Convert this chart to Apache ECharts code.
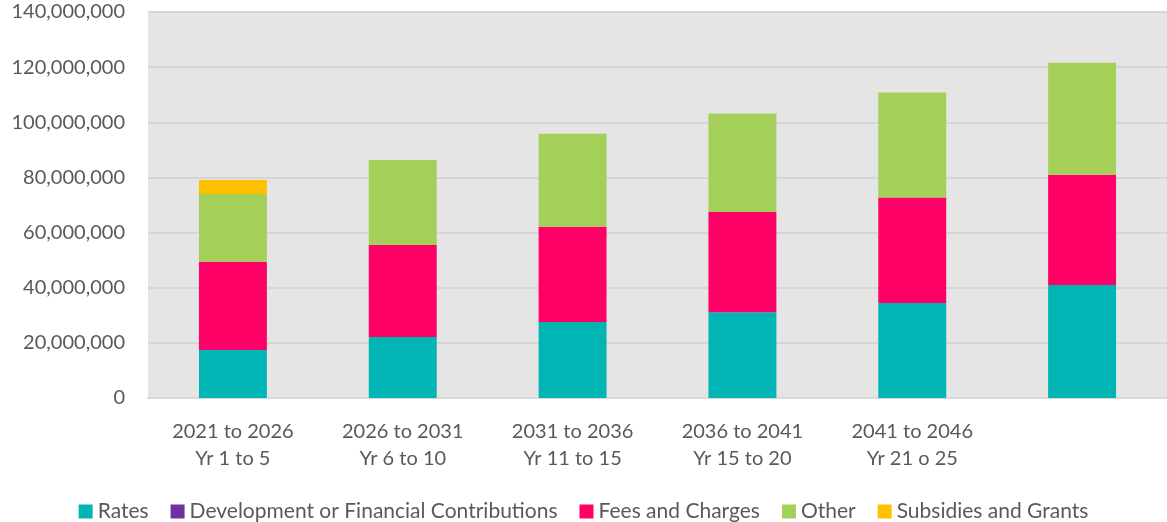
<!DOCTYPE html>
<html>
<head>
<meta charset="utf-8">
<script src="https://cdn.jsdelivr.net/npm/echarts@6/dist/echarts.min.js"></script>
<style>
  html, body { margin: 0; padding: 0; background: #fff; }
  #main { width: 1167px; height: 522px; }
</style>
</head>
<body>
<div id="main"></div>
<script>
// categories (last one has no label in the original)
var categories = ['2021 to 2026\nYr 1 to 5', '2026 to 2031\nYr 6 to 10', '2031 to 2036\nYr 11 to 15',
  '2036 to 2041\nYr 15 to 20', '2041 to 2046\nYr 21 o 25', ''];

// values in dollars
var rates = [17400000, 22100000, 27600000, 31100000, 34500000, 41000000];
var devContributions = [0, 0, 0, 0, 0, 0];
var feesCharges = [32000000, 33400000, 34500000, 36400000, 38200000, 40000000];
var other = [24600000, 30800000, 33700000, 35700000, 38100000, 40600000];
var subsidies = [5100000, 0, 0, 0, 0, 0];

var yTicks = [0, 20000000, 40000000, 60000000, 80000000, 100000000, 120000000, 140000000];

var font = 'Lato, "Open Sans", sans-serif';

var chart = echarts.init(document.getElementById('main'));

function bar(name, data, color) {
  return {
    name: name,
    type: 'bar',
    stack: 'total',
    data: data,
    barWidth: '40%',
    itemStyle: { color: color },
    emphasis: { disabled: true }
  };
}

var option = {
  animation: false,
  textStyle: { fontFamily: font },
  grid: {
    left: 148, right: 0, top: 12, bottom: 124,
    show: true, backgroundColor: '#E5E5E5', borderWidth: 0
  },
  legend: {
    top: 496,
    left: 'center',
    itemWidth: 14,
    itemHeight: 14,
    itemGap: 22,
    icon: 'rect',
    textStyle: { color: '#595959', fontSize: 21, fontFamily: font },
    data: ['Rates', 'Development or Financial Contributions', 'Fees and Charges', 'Other', 'Subsidies and Grants']
  },
  xAxis: {
    type: 'category',
    data: categories,
    axisLine: { lineStyle: { color: '#D9D9D9', width: 2 } },
    axisTick: { show: false },
    axisLabel: { color: '#595959', fontSize: 20, lineHeight: 27, margin: 20, fontFamily: font }
  },
  yAxis: {
    type: 'value',
    min: yTicks[0],
    max: yTicks[yTicks.length - 1],
    interval: yTicks[1] - yTicks[0],
    axisLine: { show: false },
    axisTick: { show: false },
    splitLine: { lineStyle: { color: '#D6D6D6', width: 2 } },
    axisLabel: {
      color: '#595959', fontSize: 20, margin: 23, fontFamily: font,
      formatter: function (v) { return v.toLocaleString('en-US'); }
    }
  },
  series: [
    bar('Rates', rates, '#00B5B3'),
    bar('Development or Financial Contributions', devContributions, '#7030A0'),
    bar('Fees and Charges', feesCharges, '#FF0066'),
    bar('Other', other, '#A4CF59'),
    bar('Subsidies and Grants', subsidies, '#FFC000')
  ]
};

chart.setOption(option);
</script>
</body>
</html>
